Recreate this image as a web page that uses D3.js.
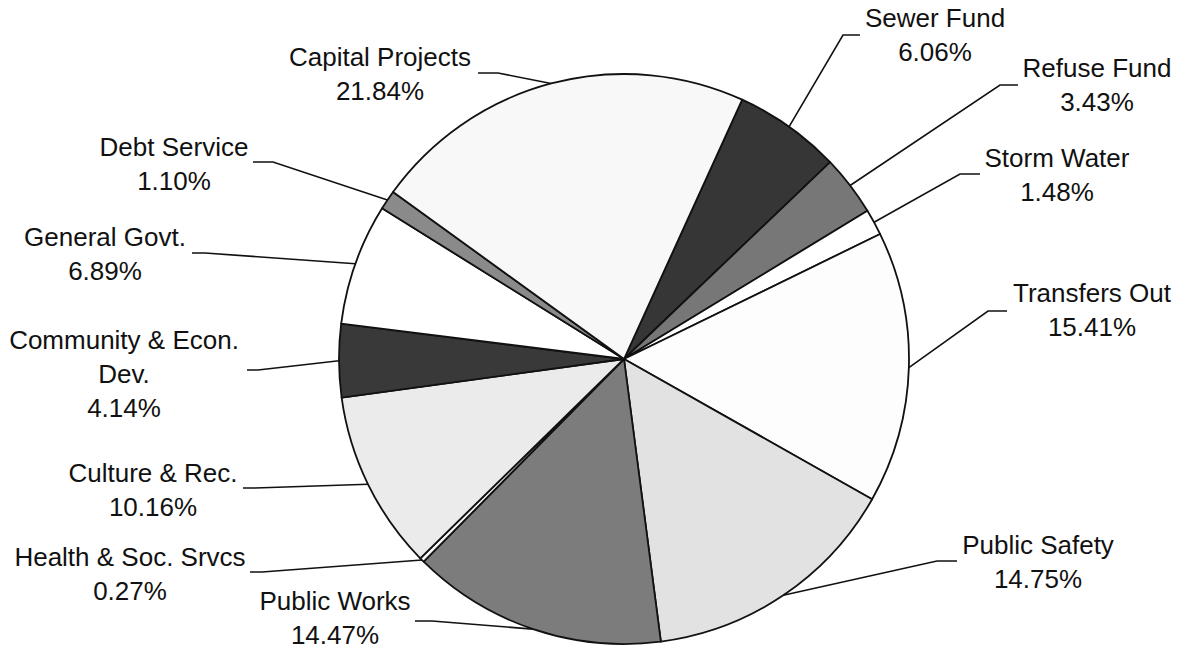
<!DOCTYPE html>
<html>
<head>
<meta charset="utf-8">
<script src="https://cdn.jsdelivr.net/npm/d3@7"></script>
<style>
  html, body { margin: 0; padding: 0; background: #fff; }
  svg { display: block; }
  text { font-family: "Liberation Sans", Arial, sans-serif; fill: #111; }
</style>
</head>
<body>
<svg id="chart" width="1182" height="651"></svg>
<script>
// ---- data ----
const categories = ["Sewer Fund", "Refuse Fund", "Storm Water", "Transfers Out", "Public Safety",
  "Public Works", "Health & Soc. Srvcs", "Culture & Rec.", "Community & Econ. Dev.",
  "General Govt.", "Debt Service", "Capital Projects"];
const values = [6.06, 3.43, 1.48, 15.41, 14.75, 14.47, 0.27, 10.16, 4.14, 6.89, 1.10, 21.84];
const valueLabels = ["6.06%", "3.43%", "1.48%", "15.41%", "14.75%", "14.47%", "0.27%", "10.16%",
  "4.14%", "6.89%", "1.10%", "21.84%"];
const nameLines = [["Sewer Fund"], ["Refuse Fund"], ["Storm Water"], ["Transfers Out"], ["Public Safety"],
  ["Public Works"], ["Health & Soc. Srvcs"], ["Culture & Rec."], ["Community & Econ.", "Dev."],
  ["General Govt."], ["Debt Service"], ["Capital Projects"]];

// ---- styles / layout (not data) ----
const shades = ["#363636", "#777777", "#ffffff", "#fdfdfd", "#e2e2e2", "#7c7c7c", "#f6f6f6",
  "#ebebeb", "#393939", "#ffffff", "#8a8a8a", "#f8f8f8"];
// label centre x, first line centre y, leader stub start x, stub end x, stub y
const labelLayout = [
  {tx: 935, ty: 18,  sx: 860, ex: 843, sy: 35},
  {tx: 1097, ty: 68, sx: 1018, ex: 1000, sy: 85},
  {tx: 1057, ty: 158, sx: 980, ex: 960, sy: 174},
  {tx: 1092, ty: 293, sx: 1007, ex: 988, sy: 311},
  {tx: 1038, ty: 545, sx: 957, ex: 937, sy: 561},
  {tx: 335, ty: 601, sx: 415, ex: 432, sy: 621},
  {tx: 130, ty: 557, sx: 250, ex: 262, sy: 572},
  {tx: 153, ty: 473, sx: 243, ex: 255, sy: 488},
  {tx: 124, ty: 340, sx: 247, ex: 258, sy: 370},
  {tx: 105, ty: 237, sx: 192, ex: 205, sy: 253},
  {tx: 174, ty: 147, sx: 253, ex: 273, sy: 162},
  {tx: 380, ty: 57,  sx: 478, ex: 498, sy: 73}
];
const cx = 624, cy = 359, R = 285;
const startDeg = 24.5;
const fontSize = 26, lineGap = 34;

const svg = d3.select("#chart");
const g = svg.append("g").attr("transform", `translate(${cx},${cy})`);

const rows = categories.map((c, i) => ({name: c, value: values[i], idx: i}));
const pie = d3.pie().value(d => d.value).sort(null)
  .startAngle(startDeg * Math.PI / 180)
  .endAngle(startDeg * Math.PI / 180 + 2 * Math.PI);
const arcs = pie(rows);
const arc = d3.arc().innerRadius(0).outerRadius(R);

g.selectAll("path.slice").data(arcs).join("path")
  .attr("class", "slice")
  .attr("d", arc)
  .attr("fill", d => shades[d.data.idx])
  .attr("stroke", "#111")
  .attr("stroke-width", 1.8)
  .attr("stroke-linejoin", "round");

// leader lines
svg.append("g").selectAll("path.leader").data(arcs).join("path")
  .attr("class", "leader")
  .attr("fill", "none")
  .attr("stroke", "#111")
  .attr("stroke-width", 1.6)
  .attr("d", d => {
    const L = labelLayout[d.data.idx];
    const m = (d.startAngle + d.endAngle) / 2;
    const px = cx + R * Math.sin(m), py = cy - R * Math.cos(m);
    return d3.line()([[L.sx, L.sy], [L.ex, L.sy], [px, py]]);
  });

// labels
const lab = svg.append("g").selectAll("text.lab").data(arcs).join("text")
  .attr("class", "lab")
  .attr("text-anchor", "middle")
  .attr("font-size", fontSize);
lab.each(function(d) {
  const L = labelLayout[d.data.idx];
  const lines = nameLines[d.data.idx].concat([valueLabels[d.data.idx]]);
  const t = d3.select(this);
  lines.forEach((s, k) => {
    t.append("tspan").attr("x", L.tx).attr("y", L.ty + k * lineGap).attr("dy", "0.35em").text(s);
  });
});
</script>
</body>
</html>
